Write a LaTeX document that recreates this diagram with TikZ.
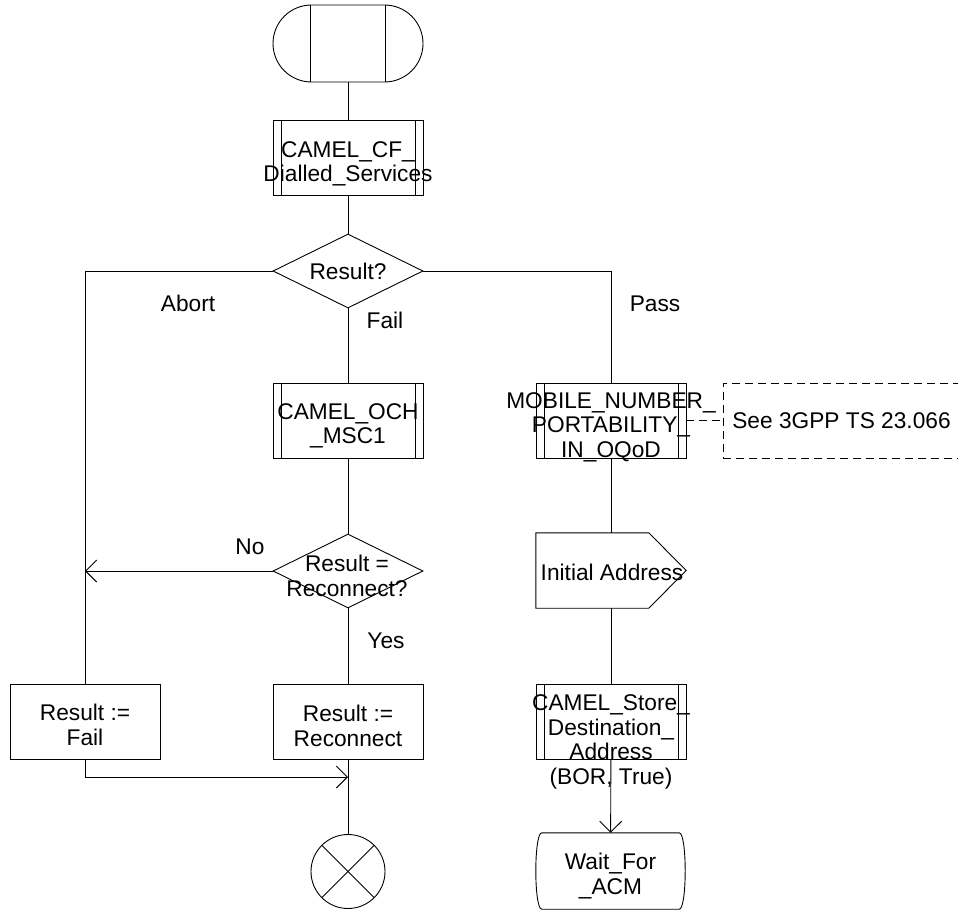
\documentclass[tikz,border=0pt]{standalone}
\usepackage{fontspec}
\setmainfont{Liberation Sans}
\usetikzlibrary{arrows.meta,shapes.geometric,shapes.misc}
\begin{document}
\begin{tikzpicture}[x=1pt,y=-1pt,
  every node/.style={font=\fontsize{22.7}{24.5}\selectfont},
  ln/.style={line width=0.9pt},
  txt/.style={align=center,inner sep=0pt},
  lbl/.style={inner sep=0pt},
  box/.style={draw,ln,rectangle,minimum width=150pt,minimum height=75pt,inner sep=0pt},
  procbox/.style={box,path picture={
      \draw[ln] ([xshift=8pt]path picture bounding box.north west) -- ([xshift=8pt]path picture bounding box.south west);
      \draw[ln] ([xshift=-8pt]path picture bounding box.north east) -- ([xshift=-8pt]path picture bounding box.south east);}},
  dec/.style={draw,ln,diamond,minimum width=150pt,minimum height=74pt,inner sep=0pt},
  startsym/.style={draw,ln,rounded rectangle,minimum width=150pt,minimum height=77pt,inner sep=0pt,path picture={
      \draw[ln] ([xshift=-37.5pt]path picture bounding box.north) -- ([xshift=-37.5pt]path picture bounding box.south);
      \draw[ln] ([xshift=37.5pt]path picture bounding box.north) -- ([xshift=37.5pt]path picture bounding box.south);}},
  termsym/.style={draw,ln,circle,minimum size=74pt,inner sep=0pt,path picture={
      \draw[ln] (path picture bounding box.north west) -- (path picture bounding box.south east);
      \draw[ln] (path picture bounding box.north east) -- (path picture bounding box.south west);}},
  ghost/.style={rectangle,minimum width=150pt,minimum height=75pt,inner sep=0pt},
  arr/.style={ln,-{Straight Barb[length=11pt,width=22pt,line width=0.9pt]}},
  cmt/.style={draw,ln,dashed,dash pattern=on 8pt off 5pt,rectangle,minimum width=257pt,minimum height=75pt,inner sep=0pt}
]
\useasboundingbox (0,0) rectangle (958,910);

% left/centre column
\node[startsym] (start) at (348,43.5) {};
\node[procbox] (cf) at (348,157.5) {};
\node[txt] at (348,164) {CAMEL\_CF\_\\Dialled\_Services};
\node[dec] (d1) at (348,271) {};
\node[txt] at (348,271) {Result?};
\node[procbox] (och) at (348,420.5) {};
\node[txt] at (348,426) {CAMEL\_OCH\\\_MSC1};
\node[dec] (d2) at (348,571) {};
\node[txt] at (347,576) {Result =\\Reconnect?};
\node[box] (rf) at (85,721.5) {};
\node[txt] at (85,725) {Result :=\\Fail};
\node[box] (rr) at (348,721.5) {};
\node[txt] at (348,726) {Result :=\\Reconnect};
\node[termsym] (term) at (348,871.5) {};
\coordinate (join) at (348,777);

% right column
\node[procbox] (mnp) at (611,420.5) {};
\node[txt] at (611,427) {MOBILE\_NUMBER\_\\PORTABILITY\_\\IN\_OQoD};
\node[cmt] (see) at (851.5,420.5) {};
\node[txt] at (841.5,420.5) {See 3GPP TS 23.066};
\node[ghost] (ia) at (611,570.5) {};
\draw[ln] (ia.north west) -- ++(113,0) -- (ia.east) -- ([xshift=113pt]ia.south west) -- (ia.south west) -- cycle;
\node[txt] at (612,572) {Initial Address};
\node[procbox] (store) at (611,721.5) {};
\node[txt] at (611,742) {CAMEL\_Store\_\\Destination\_\\Address\\(BOR, True)};
\node[ghost,minimum width=149pt,minimum height=76pt] (wait) at (610.5,871) {};
\draw[ln] ([xshift=6pt]wait.north west) -- ([xshift=-6pt]wait.north east)
  .. controls ([xshift=2pt]wait.north east) and ([xshift=2pt]wait.south east) .. ([xshift=-6pt]wait.south east)
  -- ([xshift=6pt]wait.south west)
  .. controls ([xshift=-2pt]wait.south west) and ([xshift=-2pt]wait.north west) .. ([xshift=6pt]wait.north west) -- cycle;
\node[txt] at (610.5,876) {Wait\_For\\\_ACM};

% connectors
\draw[ln] (start) -- (cf);
\draw[ln] (cf) -- (d1);
\draw[ln] (d1.west) -| (rf.north);
\draw[ln] (d1.east) -| (mnp.north);
\draw[ln] (d1) -- (och);
\draw[ln] (och) -- (d2);
\draw[arr] (d2.west) -- (d2.west -| rf.north);
\draw[ln] (d2) -- (rr);
\draw[ln] (rr) -- (term);
\draw[arr] (rf.south) |- (join);
\draw[ln] (mnp) -- (ia);
\draw[ln] (ia) -- (store);
\draw[arr] (store) -- (wait);
\draw[ln,dashed,dash pattern=on 8pt off 5pt] (mnp.east) -- (see.west);

% labels
\node[lbl] at (188,303) {Abort};
\node[lbl] at (385,320) {Fail};
\node[lbl] at (655,304) {Pass};
\node[lbl] at (250,547) {No};
\node[lbl] at (386,641) {Yes};
\end{tikzpicture}
\end{document}
